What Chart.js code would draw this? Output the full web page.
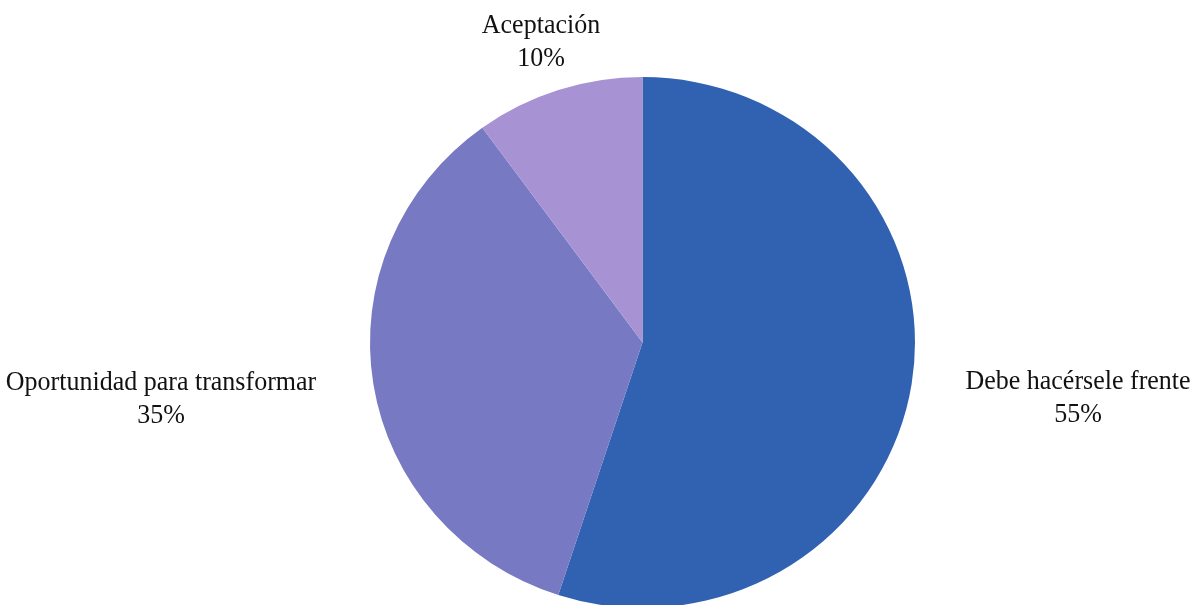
<!DOCTYPE html>
<html>
<head>
<meta charset="utf-8">
<script src="https://cdn.jsdelivr.net/npm/chart.js@4"></script>
<style>
  html, body { margin: 0; padding: 0; background: #ffffff; overflow: hidden; }
  #wrap { width: 1194px; height: 605px; overflow: hidden; position: relative; }
  canvas { display: block; }
</style>
</head>
<body>
<div id="wrap"><canvas id="c" width="1194" height="640"></canvas></div>
<script>
const categories = ['Debe hacérsele frente', 'Oportunidad para transformar', 'Aceptación'];
const values = [55, 35, 10];
const percentLabels = ['55%', '35%', '10%'];
const colors = ['#3162B1', '#7779C2', '#A793D3'];

// label anchor: center x and first baseline y (text placement only)
const labelAnchors = [
  { x: 1078, y: 389 },
  { x: 161, y: 390 },
  { x: 541, y: 33 }
];

const squash = 0.974;
const textStretch = 1.08;

const squashPlugin = {
  id: 'squash',
  beforeDatasetsDraw(chart) {
    const a = chart.chartArea;
    const cx = (a.left + a.right) / 2, cy = (a.top + a.bottom) / 2;
    const ctx = chart.ctx;
    ctx.save();
    ctx.translate(cx, cy);
    ctx.scale(1, squash);
    ctx.translate(-cx, -cy);
  },
  afterDatasetsDraw(chart) {
    chart.ctx.restore();
  }
};

const labelPlugin = {
  id: 'outLabels',
  afterDraw(chart) {
    const ctx = chart.ctx;
    categories.forEach((cat, i) => {
      const p = labelAnchors[i];
      const lines = [cat, percentLabels[i]];
      lines.forEach((t, j) => {
        ctx.save();
        ctx.fillStyle = '#111111';
        ctx.font = '26px "Liberation Serif", "Times New Roman", serif';
        ctx.textAlign = 'center';
        ctx.textBaseline = 'alphabetic';
        ctx.translate(p.x, p.y + j * 33);
        ctx.scale(1, textStretch);
        ctx.fillText(t, 0, 0);
        ctx.restore();
      });
    });
  }
};

new Chart(document.getElementById('c'), {
  type: 'pie',
  data: {
    labels: categories,
    datasets: [{
      data: values,
      backgroundColor: colors,
      borderWidth: 0,
      hoverOffset: 0,
      offset: 0
    }]
  },
  options: {
    responsive: false,
    animation: false,
    events: [],
    rotation: 0,
    layout: { padding: { left: 370, right: 279, top: 70, bottom: 25 } },
    plugins: {
      legend: { display: false },
      tooltip: { enabled: false },
      title: { display: false }
    }
  },
  plugins: [squashPlugin, labelPlugin]
});
</script>
</body>
</html>
